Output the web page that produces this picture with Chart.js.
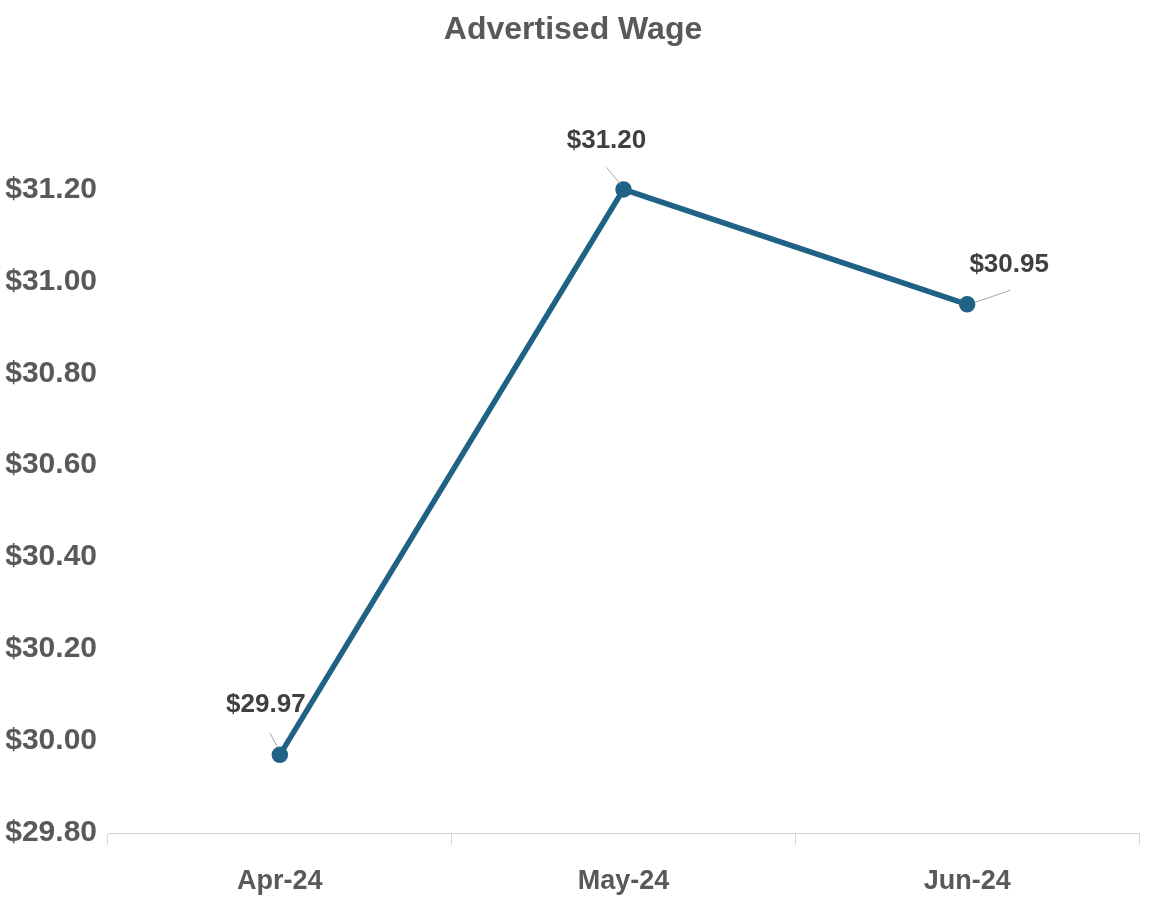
<!DOCTYPE html>
<html>
<head>
<meta charset="utf-8">
<script src="https://cdn.jsdelivr.net/npm/chart.js@4.4.1/dist/chart.umd.min.js"></script>
<style>
  html, body { margin: 0; padding: 0; background: #fff; }
  #wrap { width: 1150px; height: 897px; }
</style>
</head>
<body>
<div id="wrap"><canvas id="wageChart"></canvas></div>
<script>
// chart data
const months = ['Apr-24', 'May-24', 'Jun-24'];
const wages = [29.97, 31.20, 30.95];
const yMin = 29.80, yMax = 31.20, yStep = 0.20;

const FONT = '"Liberation Sans Narrow", "Arial Narrow", "Liberation Sans", sans-serif';
const GREY = '#595959';
const LINE = '#1f6285';

const money = v => '$' + Number(v).toFixed(2);

// label offsets from each point (label centre, leader start, leader end)
const labelPos = [
  { dx: -14, dy: -50, lx1: -10, ly1: -22, lx2: -2, ly2: -7 },
  { dx: -17, dy: -49, lx1: -17, ly1: -22, lx2: -3, ly2: -5 },
  { dx: 42, dy: -40, lx1: 43, ly1: -14, lx2: 8, ly2: -2 }
];

// draws the value labels with thin leader lines
const valueLabels = {
  id: 'valueLabels',
  afterDatasetsDraw(chart) {
    const ctx = chart.ctx;
    const meta = chart.getDatasetMeta(0);
    ctx.save();
    meta.data.forEach((pt, i) => {
      const p = labelPos[i];
      ctx.strokeStyle = '#a6a6a6';
      ctx.lineWidth = 1;
      ctx.beginPath();
      ctx.moveTo(pt.x + p.lx1, pt.y + p.ly1);
      ctx.lineTo(pt.x + p.lx2, pt.y + p.ly2);
      ctx.stroke();
      ctx.fillStyle = '#404040';
      ctx.font = 'bold 26px ' + FONT;
      ctx.textAlign = 'center';
      ctx.textBaseline = 'middle';
      ctx.fillText(money(wages[i]), pt.x + p.dx, pt.y + p.dy);
    });
    ctx.restore();
  }
};

new Chart(document.getElementById('wageChart'), {
  type: 'line',
  data: {
    labels: months,
    datasets: [{
      data: wages,
      borderColor: LINE,
      backgroundColor: LINE,
      borderWidth: 5.5,
      pointRadius: 5.5,
      pointBackgroundColor: LINE,
      pointBorderColor: LINE,
      tension: 0,
      clip: false
    }]
  },
  options: {
    responsive: true,
    maintainAspectRatio: false,
    animation: false,
    layout: { padding: { top: 0, right: 4, left: 0, bottom: 0 } },
    plugins: {
      legend: { display: false },
      tooltip: { enabled: false },
      title: {
        display: true,
        text: 'Advertised Wage',
        color: GREY,
        font: { family: FONT, size: 32, weight: 'bold' },
        padding: { top: 11, bottom: 140 }
      }
    },
    scales: {
      x: {
        offset: true,
        grid: {
          offset: true,
          drawOnChartArea: false,
          drawTicks: true,
          tickLength: 12,
          color: '#d9d9d9'
        },
        border: { display: true, color: '#d0d0d0', dash: [2, 2] },
        ticks: {
          color: GREY,
          padding: 20,
          font: { family: FONT, size: 27, weight: 'bold' }
        },
        afterFit(scale) { scale.height = 64; }
      },
      y: {
        min: yMin,
        max: yMax,
        grid: { display: false, drawTicks: false },
        border: { display: false },
        ticks: {
          stepSize: yStep,
          color: GREY,
          padding: 11,
          font: { family: FONT, size: 30, weight: 'bold' },
          callback: v => money(v)
        },
        afterFit(scale) { scale.width = 108; }
      }
    }
  },
  plugins: [valueLabels]
});
</script>
</body>
</html>
